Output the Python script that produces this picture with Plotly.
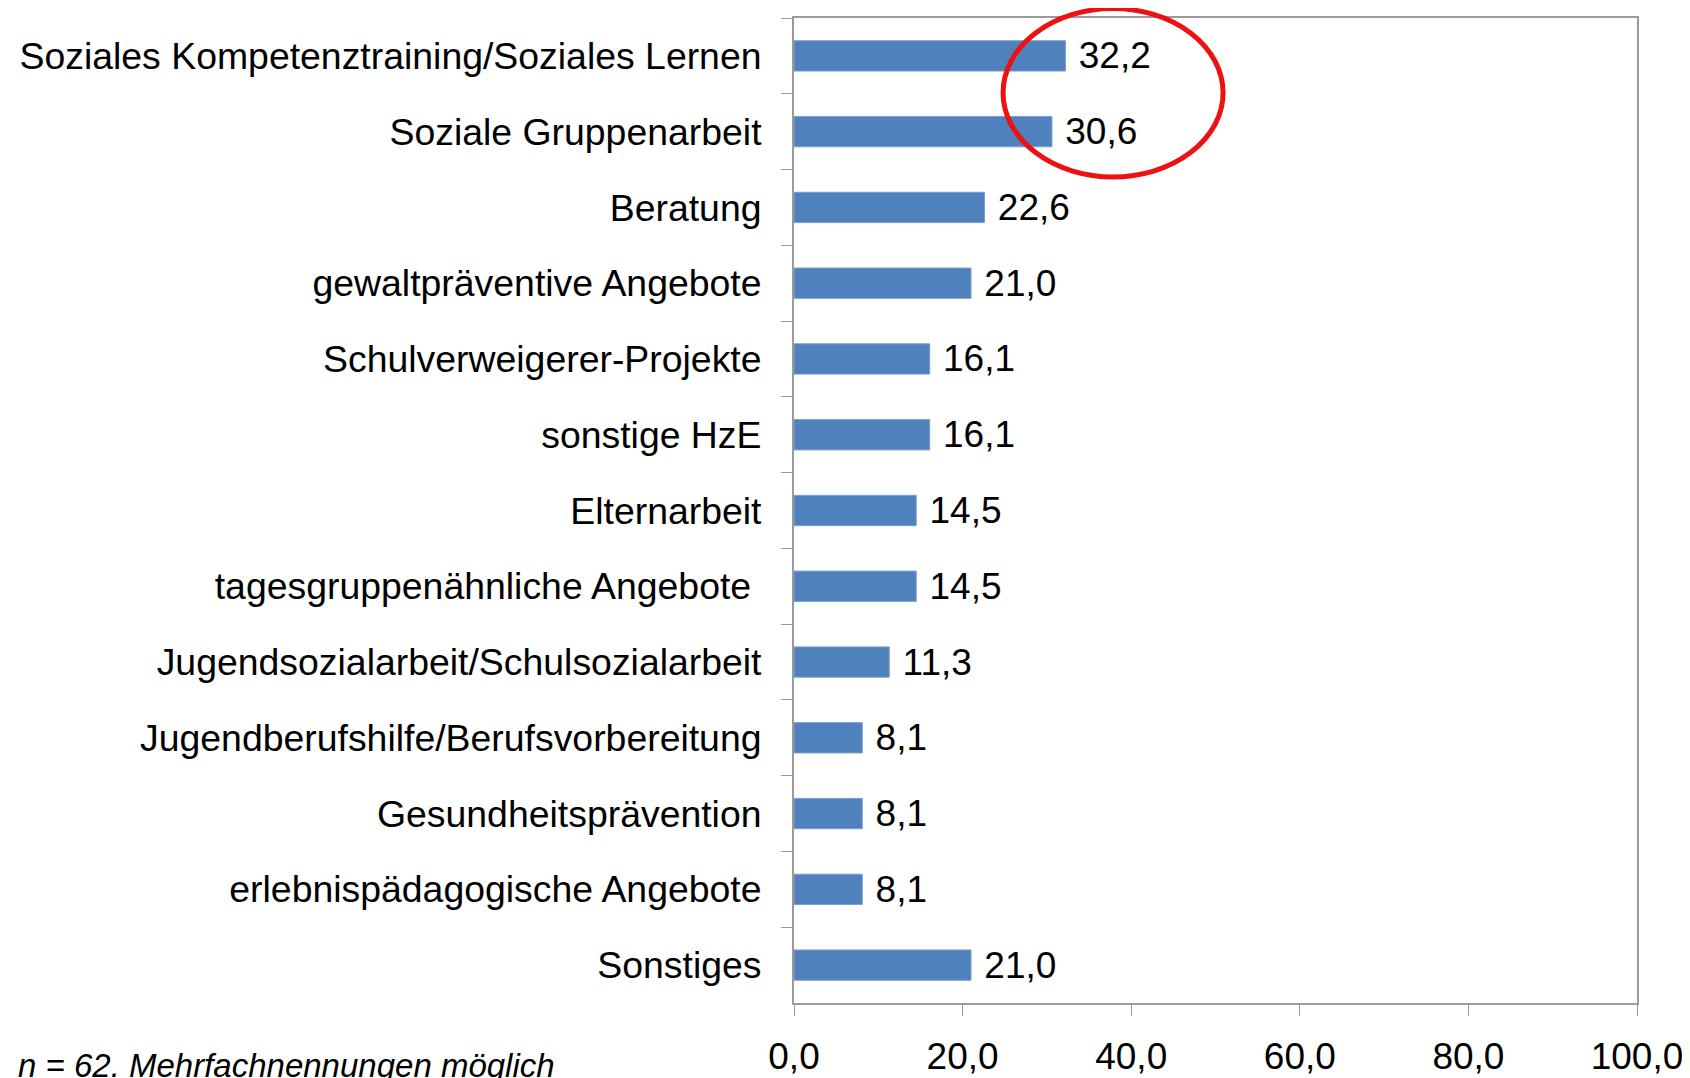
import plotly.graph_objects as go

categories = [
    "Soziales Kompetenztraining/Soziales Lernen",
    "Soziale Gruppenarbeit",
    "Beratung",
    "gewaltpräventive Angebote",
    "Schulverweigerer-Projekte",
    "sonstige HzE",
    "Elternarbeit",
    "tagesgruppenähnliche Angebote\u00a0",
    "Jugendsozialarbeit/Schulsozialarbeit",
    "Jugendberufshilfe/Berufsvorbereitung",
    "Gesundheitsprävention",
    "erlebnispädagogische Angebote",
    "Sonstiges",
]
values = [32.2, 30.6, 22.6, 21.0, 16.1, 16.1, 14.5, 14.5, 11.3, 8.1, 8.1, 8.1, 21.0]
x_ticks = [0, 20, 40, 60, 80, 100]
note = "n = 62. Mehrfachnennungen möglich"

FONT = "Liberation Sans, Arial, sans-serif"
AXIS_GRAY = "#9a9a9a"

fig = go.Figure()
fig.add_trace(go.Bar(
    x=values,
    y=categories,
    orientation="h",
    marker=dict(color="#4F81BD", line=dict(color="#7a9fd0", width=1)),
    texttemplate="\u00a0%{x:.1f}",
    textposition="outside",
    constraintext="none",
    textfont=dict(size=37, color="black", family=FONT),
    cliponaxis=False,
    showlegend=False,
))

# page body adds 8px, so the figure is 8px smaller and shifted margins
fig.update_layout(
    width=1682,
    height=1070,
    margin=dict(l=786, r=53, t=10, b=75, autoexpand=False),
    paper_bgcolor="white",
    plot_bgcolor="white",
    separators=",.",
    bargap=0.6,
    font=dict(family=FONT, size=37, color="black"),
)

fig.update_xaxes(
    range=[0, 100],
    tickvals=x_ticks,
    tickformat=".1f",
    showgrid=False,
    zeroline=False,
    showline=True,
    linecolor=AXIS_GRAY,
    linewidth=2,
    mirror=True,
    ticks="outside",
    ticklen=11,
    tickcolor=AXIS_GRAY,
    ticklabelstandoff=9,
    automargin=False,
    tickfont=dict(size=37, color="black"),
)
fig.update_yaxes(
    autorange="reversed",
    showgrid=False,
    showline=True,
    linecolor=AXIS_GRAY,
    linewidth=2,
    mirror=True,
    ticks="outside",
    tickson="boundaries",
    ticklen=11,
    tickcolor=AXIS_GRAY,
    ticklabelstandoff=23,
    automargin=False,
    tickfont=dict(size=37.4, color="black"),
)

# red highlight ellipse around the two top values
fig.add_shape(
    type="circle",
    xref="paper", yref="paper",
    x0=0.248, x1=0.509, y0=0.8386, y1=1.0096,
    line=dict(color="#ee1111", width=5),
    layer="above",
)

fig.add_annotation(
    text="<i>" + note + "</i>",
    xref="paper", yref="paper",
    x=-0.923, y=-0.043,
    xanchor="left", yanchor="top",
    showarrow=False,
    font=dict(size=33, color="black", family=FONT),
)

fig.write_html("out.html")
